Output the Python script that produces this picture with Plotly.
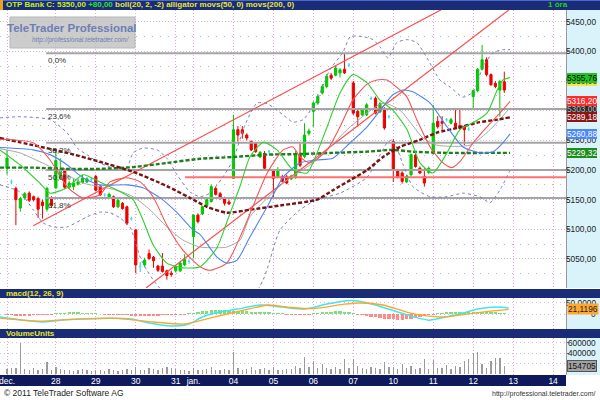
import plotly.graph_objects as go

# ---------------- data (hourly bars, index = bar number) -------------
opens = [5203, 5180, 5169, 5136, 5153, 5161, 5155, 5152, 5146, 5134, 5152,
         5170, 5186, 5200, 5171, 5172, 5176, 5179, 5180, 5184,
         5189, 5173, 5158, 5154, 5155, 5138, 5144, 5138, 5118,
         5099, 5038, 5040, 5059, 5053, 5038, 5038, 5030, 5026,
         5030, 5030, 5040, 5046,
         5088, 5124, 5126, 5140, 5147, 5169, 5160, 5152, 5146,
         5186, 5268, 5268, 5259, 5248, 5245, 5222, 5228, 5231,
         5199, 5189, 5189, 5189, 5185, 5189, 5225, 5223, 5262,
         5299, 5313, 5330, 5341, 5360, 5360, 5364, 5370, 5377,
         5347, 5299, 5293, 5293, 5321, 5321, 5298, 5304, 5290,
         5248, 5200, 5195, 5180, 5192, 5225, 5203, 5189, 5196,
         5228, 5282, 5282, 5285, 5279, 5279, 5275, 5273, 5269,
         5324, 5334, 5370, 5386, 5361, 5346, 5335, 5349]
highs = [5234, 5184, 5172, 5155, 5163, 5164, 5157, 5155, 5150, 5172, 5156,
         5234, 5220, 5203, 5182, 5186, 5186, 5192, 5188, 5188,
         5192, 5175, 5161, 5162, 5157, 5151, 5146, 5140, 5121,
         5100, 5045, 5052, 5066, 5055, 5040, 5060, 5032, 5030,
         5040, 5046, 5058, 5049,
         5125, 5127, 5140, 5152, 5176, 5172, 5163, 5155, 5150,
         5293, 5274, 5274, 5262, 5250, 5247, 5232, 5232, 5234,
         5202, 5205, 5192, 5192, 5192, 5232, 5245, 5279, 5270,
         5316, 5328, 5345, 5362, 5364, 5376, 5372, 5397, 5380,
         5350, 5302, 5304, 5313, 5324, 5324, 5315, 5306, 5293,
         5252, 5202, 5198, 5192, 5228, 5228, 5206, 5203, 5206,
         5310, 5291, 5291, 5288, 5288, 5304, 5304, 5276, 5272,
         5336, 5372, 5411, 5390, 5363, 5350, 5352, 5366]
lows = [5192, 5176, 5107, 5130, 5150, 5146, 5147, 5119, 5118, 5130, 5136,
        5168, 5184, 5168, 5168, 5166, 5174, 5177, 5178, 5181,
        5164, 5156, 5155, 5152, 5136, 5136, 5133, 5107, 5115,
        5026, 5028, 5036, 5048, 5035, 5028, 5027, 5015, 5020,
        5027, 5028, 5038, 5042,
        5051, 5110, 5124, 5138, 5145, 5157, 5150, 5140, 5141,
        5185, 5248, 5253, 5250, 5232, 5229, 5220, 5200, 5228,
        5152, 5186, 5179, 5176, 5183, 5185, 5205, 5220, 5258,
        5273, 5310, 5327, 5338, 5352, 5358, 5356, 5362, 5374,
        5293, 5273, 5291, 5291, 5318, 5294, 5296, 5268, 5287,
        5180, 5186, 5177, 5178, 5190, 5204, 5193, 5172, 5193,
        5226, 5270, 5266, 5282, 5277, 5270, 5268, 5242, 5266,
        5301, 5331, 5368, 5358, 5342, 5338, 5290, 5330]
closes = [5220, 5180, 5150, 5152, 5160, 5149, 5150, 5134, 5140, 5169, 5140,
          5216, 5200, 5171, 5178, 5178, 5180, 5186, 5185, 5184,
          5166, 5158, 5158, 5159, 5138, 5149, 5135, 5110, 5118,
          5040, 5038, 5048, 5051, 5047, 5031, 5029, 5022, 5024,
          5037, 5043, 5049, 5046,
          5124, 5113, 5138, 5150, 5172, 5159, 5152, 5144, 5143,
          5268, 5259, 5262, 5254, 5234, 5231, 5230, 5203, 5231,
          5186, 5200, 5181, 5178, 5190, 5228, 5208, 5259, 5266,
          5313, 5324, 5341, 5358, 5355, 5372, 5369, 5364, 5377,
          5296, 5290, 5301, 5310, 5321, 5296, 5312, 5271, 5290,
          5200, 5189, 5181, 5189, 5226, 5206, 5195, 5178, 5203,
          5279, 5273, 5279, 5285, 5285, 5273, 5270, 5268, 5269,
          5334, 5370, 5386, 5361, 5344, 5341, 5349, 5335]
volumes = [95000, 110000, 105000, 600000, 90000, 70000, 110000, 75000, 95000, 230000, 80000,
           130000, 95000, 70000, 85000, 60000, 75000, 90000, 70000, 60000,
           85000, 70000, 60000, 95000, 80000, 65000, 70000, 100000, 75000,
           130000, 85000, 70000, 120000, 90000, 75000, 110000, 130000, 120000,
           90000, 85000, 70000, 60000,
           110000, 80000, 70000, 95000, 140000, 75000, 70000, 90000, 80000,
           420000, 110000, 80000, 90000, 130000, 75000, 100000, 110000, 80000,
           140000, 85000, 70000, 100000, 90000, 150000, 120000, 325000, 130000,
           253000, 110000, 200000, 120000, 95000, 130000, 90000, 285000, 110000,
           285000, 150000, 110000, 90000, 140000, 120000, 100000, 220000, 130000,
           130000, 100000, 190000, 110000, 150000, 90000, 120000, 285000, 100000,
           260000, 120000, 110000, 180000, 100000, 150000, 130000,
           250000, 280000, 400000, 420000, 200000, 110000, 250000, 300000, 310000, 154705]
macd_hist = [-5, -6, -7, -8, -8, -7, -6, -6, -5, -4, -3,
             3, 5, 6, 7, 7, 7, 6, 5, 4, 3, 2,
             -2, -3, -4, -5, -6, -6, -7, -7, -8, -8, -8, -7, -7, -6, -6, -5, -4, -3, -2,
             3, 6, 9, 12, 15, 17, 18, 18, 17, 16, 15, 15, 14, 12, 11, 10, 9, 8, 7, 6, 5, 3,
             -2, -3, -4, -4, -3, -2,
             3, 5, 7, 9, 11, 12, 12, 11, 9, 6,
             -3, -6, -9, -12, -15, -18, -20, -22, -23, -24, -24, -22, -20, -17, -13, -9, -6, -3,
             3, 5, 7, 8, 9, 10, 10, 10, 9, 9, 8, 8, 7, 7, 6, 6]

# indicator lines, sampled points (bar index, value)
bb_upper_x = [-1.6, 2.9, 9.7, 13.5, 15.8, 18.0, 20.3, 23.2, 27.0, 28.4, 30.6, 33.8, 36.0, 38.3, 41.2, 43.5,
              45.7, 48.6, 50.9, 53.6, 56.3, 58.6, 62.2, 64.4, 66.7, 69.8, 72.7, 75.7, 77.3, 80.2, 82.4,
              84.0, 85.8, 87.8, 90.1, 92.3, 94.6, 97.5, 99.8, 102.7, 105.0, 107.2, 109.5, 111.7, 113.3]
bb_upper_y = [5288, 5290, 5285, 5263, 5237, 5226, 5214, 5205, 5205, 5229, 5237, 5234, 5220, 5192, 5163, 5155,
              5161, 5188, 5217, 5276, 5313, 5312, 5293, 5281, 5285, 5318, 5369, 5399, 5425, 5425, 5420,
              5408, 5389, 5415, 5420, 5415, 5389, 5352, 5340, 5323, 5332, 5374, 5398, 5403, 5403]
bb_lower_x = [-1.6, 0.7, 2.9, 5.9, 8.1, 10.4, 13.5, 18.0, 20.9, 23.2, 25.5, 27.7, 30.0, 31.5, 32.9, 35.1,
              41.2, 50.2, 57.7, 61.5, 66.0, 69.8, 75.0, 81.1, 85.6, 86.9, 89.2, 91.4, 95.3, 99.1, 102.7,
              106.5, 108.8, 111.0, 113.3]
bb_lower_y = [5175, 5170, 5163, 5133, 5111, 5104, 5104, 5121, 5129, 5128, 5119, 5104, 5053, 5031, 5015, 4994,
              4930, 4930, 5015, 5099, 5133, 5150, 5161, 5188, 5246, 5251, 5209, 5172, 5155, 5155, 5161,
              5155, 5145, 5166, 5200]
bb_mid_x = [-1.6, 2.9, 7.4, 13.5, 17.1, 20.9, 24.8, 28.4, 32.2, 36.0, 39.6, 43.5, 45.7, 49.5, 52.5, 54.7,
            62.2, 69.8, 77.3, 84.7, 88.5, 93.7, 96.8, 104.3, 108.8, 113.3]
bb_mid_y = [5236, 5229, 5214, 5192, 5178, 5172, 5166, 5155, 5133, 5104, 5082, 5070, 5069, 5070, 5082, 5121,
            5178, 5217, 5273, 5313, 5301, 5254, 5242, 5242, 5268, 5305]
jaw_x = [-1.6, 5.9, 9.7, 13.5, 17.1, 20.9, 27.0, 30.6, 34.5, 38.3, 41.9, 43.5, 47.3, 49.5, 51.8, 54.7, 58.6,
         62.2, 66.0, 69.8, 73.4, 77.3, 81.1, 84.7, 86.9, 89.2, 91.4, 95.3, 99.1, 102.7, 106.5, 109.5, 111.7, 113.3]
jaw_y = [5238, 5234, 5226, 5209, 5187, 5175, 5175, 5170, 5153, 5128, 5099, 5091, 5053, 5043, 5048, 5087, 5138,
         5188, 5212, 5217, 5220, 5246, 5273, 5307, 5327, 5335, 5332, 5313, 5273, 5239, 5229, 5231, 5246, 5261]
teeth_x = [-1.6, 5.9, 9.7, 13.5, 15.8, 17.1, 20.9, 23.2, 27.0, 30.0, 32.9, 36.0, 39.6, 43.5, 45.7, 49.5, 53.2,
           58.6, 62.2, 64.4, 66.0, 68.2, 72.1, 75.0, 77.9, 81.1, 83.3, 85.6, 88.5, 90.1, 92.3, 95.3, 98.2,
           100.2, 102.0, 105.0, 108.1, 111.0, 113.3]
teeth_y = [5252, 5246, 5217, 5172, 5158, 5153, 5158, 5180, 5187, 5180, 5155, 5107, 5065, 5037, 5031, 5043, 5099,
           5195, 5234, 5239, 5222, 5212, 5234, 5273, 5318, 5345, 5352, 5352, 5335, 5323, 5285, 5239, 5212,
           5204, 5214, 5246, 5273, 5296, 5316]
lips_x = [-1.6, 2.9, 7.4, 9.7, 13.5, 17.1, 20.9, 24.8, 28.4, 30.6, 32.9, 36.0, 39.6, 43.5, 47.3, 49.5, 52.5,
          54.7, 57.7, 60.8, 64.4, 67.6, 68.9, 72.1, 75.0, 77.9, 81.1, 84.0, 86.9, 90.1, 93.0, 95.9, 99.1,
          102.0, 105.0, 108.1, 110.4, 111.7, 113.3]
lips_y = [5234, 5209, 5178, 5161, 5170, 5192, 5180, 5166, 5150, 5116, 5074, 5043, 5035, 5037, 5069, 5112, 5173,
          5222, 5247, 5234, 5200, 5195, 5212, 5273, 5330, 5361, 5347, 5318, 5301, 5268, 5212, 5195, 5229,
          5268, 5280, 5296, 5335, 5352, 5356]
movs200_x = [-1.6, 5.9, 13.5, 20.9, 28.4, 36.0, 41.2, 45.0, 49.5, 54.7, 62.2, 69.8, 73.4, 77.3, 81.1, 84.7,
             88.5, 93.0, 96.8, 101.4, 105.9, 110.4, 113.3]
movs200_y = [5254, 5242, 5229, 5214, 5197, 5173, 5153, 5138, 5128, 5133, 5141, 5150, 5166, 5183, 5200, 5222,
             5239, 5251, 5263, 5271, 5280, 5285, 5289]
movs50_x = [-1.6, 5.9, 13.5, 20.9, 28.4, 36.0, 43.5, 50.9, 58.6, 66.0, 73.4, 81.1, 86.9, 91.4, 99.1, 113.3]
movs50_y = [5204, 5204, 5202, 5202, 5205, 5212, 5219, 5222, 5226, 5227, 5229, 5231, 5234, 5231, 5229, 5229]
macd_x = [-1.6, 3.6, 7.9, 12, 17, 24, 28, 31, 35, 38, 41, 44, 48, 52, 57, 62, 67, 72, 76, 79, 83, 88, 91, 95,
          97.5, 102, 106, 110.6, 113]
macd_v = [-13, -27, -35, -27, -22, -18, -22, -35, -49, -53, -44, -13, 9, 22, 40, 31, 22, 44, 58, 58, 40, 9,
          -9, -27, -18, 0, 22, 31, 27]
signal_x = [-1.6, 7, 15.8, 24, 33, 40, 46.6, 53.6, 58.8, 64, 69, 76, 79.5, 84.7, 90, 93, 98, 103.6, 108.8, 113]
signal_v = [-18, -31, -22, -18, -35, -44, -13, 18, 40, 29, 24, 44, 49, 40, 9, -4, -13, 0, 13, 21.1]

# drawing tools
fib_start = 8.8
fib_values = [5397, 5303, 5246, 5200, 5153]
fib_labels = ["0,0%", "23,6%", "38,2%", "50,0%", "61,8%"]
trend1 = ([5.9, 97.7], [5106, 5470])
trend2 = ([31.3, 113.0], [5001, 5470])
hline_start, hline_value = 40.1, 5188

# axis labels
day_ticks = [0, 11, 20, 29, 38, 42, 51, 60, 69, 78, 87, 96, 105, 114, 123]
day_labels = ["dec.", "28", "29", "30", "31", "jan.", "04", "05", "06", "07", "10", "11", "12", "13", "14"]
price_ticks = [5050, 5100, 5150, 5200, 5250, 5300, 5350, 5400, 5450]
price_minor = [5025, 5075, 5125, 5175, 5225, 5275, 5325, 5375, 5425]
vol_ticks = [200000, 400000, 600000]
price_tags = [(5350.00, "5350,00", "#f2e64a", "#333"), (5355.76, "5355,76", "#22c422", "#000"),
              (5303.00, "5303,00", "#2a2a2a", "#bbbbbb"), (5316.20, "5316,20", "#ff2a2a", "#ffffff"),
              (5289.18, "5289,18", "#8c1414", "#ffffff"), (5260.88, "5260,88", "#4a86ff", "#ffffff"),
              (5229.32, "5229,32", "#1c8c1c", "#ffffff")]

# ---------------- layout geometry ----------------
W, H = 600, 400
XR = 566 / W
FONT = "Liberation Sans, Arial, sans-serif"


def dom(top, bottom):
    return [1 - bottom / H, 1 - top / H]


main_dom, macd_dom, vol_dom = dom(10, 288), dom(298, 329), dom(338, 375)
x_range = [-1.58, 125.9]

fig = go.Figure()


def line(x, y, color, width=1.0, dash="solid", shape="spline", xa="x", ya="y"):
    fig.add_trace(go.Scatter(x=x, y=y, mode="lines", xaxis=xa, yaxis=ya, hoverinfo="skip",
                             line=dict(color=color, width=width, dash=dash, shape=shape, smoothing=0.6)))


# fibonacci + horizontal + trend lines
for v in fib_values:
    line([fib_start, x_range[1]], [v, v], "#a4a4a4", 2, shape="linear")
line([hline_start, x_range[1]], [hline_value, hline_value], "#ff7070", 2, shape="linear")
line(trend1[0], trend1[1], "#ff4c4c", 1.2, shape="linear")
line(trend2[0], trend2[1], "#ff4c4c", 1.2, shape="linear")

# indicators
line(bb_upper_x, bb_upper_y, "#7682b4", 1, "dot")
line(bb_lower_x, bb_lower_y, "#7682b4", 1, "dot")
line(bb_mid_x, bb_mid_y, "#a8a8a8", 1)
line(movs50_x, movs50_y, "#1e7e1e", 2.4, "4px,2px")
line(movs200_x, movs200_y, "#761414", 2.4, "4px,2px")
line(jaw_x, jaw_y, "#4c86f0", 1.1)
line(teeth_x, teeth_y, "#f25656", 1.1)
line(lips_x, lips_y, "#30d030", 1.1)

# candles
idx = list(range(len(opens)))
nd = [i for i in idx if opens[i] != closes[i]]
dj = [i for i in idx if opens[i] == closes[i]]
fig.add_trace(go.Candlestick(
    x=nd, open=[opens[i] for i in nd], high=[highs[i] for i in nd],
    low=[lows[i] for i in nd], close=[closes[i] for i in nd],
    increasing=dict(line=dict(color="#00c400", width=1), fillcolor="#00d000"),
    decreasing=dict(line=dict(color="#ee0000", width=1), fillcolor="#ee0000"),
    whiskerwidth=0, hoverinfo="skip", showlegend=False))
fig.add_trace(go.Candlestick(
    x=dj, open=[opens[i] for i in dj], high=[highs[i] for i in dj],
    low=[lows[i] for i in dj], close=[closes[i] for i in dj],
    increasing=dict(line=dict(color="#38dcf0", width=1.2), fillcolor="#38dcf0"),
    decreasing=dict(line=dict(color="#38dcf0", width=1.2), fillcolor="#38dcf0"),
    whiskerwidth=0, hoverinfo="skip", showlegend=False))

# MACD panel
fig.add_trace(go.Bar(x=idx, y=macd_hist, xaxis="x2", yaxis="y2", width=0.75, hoverinfo="skip",
                     marker=dict(color=["#6ad86a" if v > 0 else "#ff7676" for v in macd_hist], line_width=0),
                     opacity=0.85))
line(macd_x, macd_v, "#3ee6ee", 1.5, xa="x2", ya="y2")
line(signal_x, signal_v, "#ffa62a", 1.3, xa="x2", ya="y2")

# Volume panel
fig.add_trace(go.Bar(x=idx, y=volumes, xaxis="x3", yaxis="y3", width=0.3, hoverinfo="skip",
                     marker=dict(color="#9a9a9a", line_width=0)))

# ---------------- shapes ----------------
shapes = []


def rect(x0, x1, top, bottom, color, layer="below", line_color=None, opacity=1):
    shapes.append(dict(type="rect", xref="paper", yref="paper", x0=x0, x1=x1,
                       y0=1 - bottom / H, y1=1 - top / H, fillcolor=color, opacity=opacity, layer=layer,
                       line=dict(width=1 if line_color else 0, color=line_color or color)))


rect(0, 1, 0, 10, "#1b2c76")
rect(0, 1, 0, 1, "#4a68d0")
rect(0, 3 / W, 0, 10, "#f0a020")
rect(0, 1, 289, 298, "#1b2c76")
rect(0, 1, 329, 338, "#1b2c76")
rect(0, XR, 375, 386, "#0f1a5c")
for top, bottom in [(10, 288), (298, 329), (338, 375)]:
    rect(XR, 1, top, bottom, "#daf3fa")
rect(10 / W, 135 / W, 17, 48, "#bcbcbc", layer="above", line_color="#a0a0a0", opacity=0.75)

# ---------------- annotations ----------------
ann = []


def text(x, y, s, size=8, color="#222", xanchor="left", yanchor="middle", xref="paper", yref="paper", **kw):
    ann.append(dict(x=x, y=y, xref=xref, yref=yref, text=s, showarrow=False, xanchor=xanchor,
                    yanchor=yanchor, font=dict(family=FONT, size=size, color=color), **kw))


text(4 / W, 1 - 5 / H,
     '<b><span style="color:#c6ee1a">OTP Bank C: 5350,00 </span><span style="color:#2ee02e">+80,00</span>'
     '<span style="color:#e6e636"> boll(20, 2, -2) alligator movs(50, 0) movs(200, 0)</span></b>', size=8)
text(558 / W, 1 - 5 / H, "<b>1 óra</b>", size=8, color="#22d022", xanchor="center")
text(4 / W, 1 - 293.5 / H, "<b>macd(12, 26, 9)</b>", size=8, color="#e8e820")
text(4 / W, 1 - 333.5 / H, "<b>VolumeUnits</b>", size=8, color="#e8e820")
text(72 / W, 1 - 28 / H, "<b>TeleTrader Professional</b>", size=11.5, color="#6c7eb6", xanchor="center")
text(80 / W, 1 - 40 / H, "<i>http://professional.teletrader.com/</i>", size=6.5, color="#6c7eb6",
     xanchor="center")
text(2 / W, 1 - 393 / H, "© 2011 TeleTrader Software AG", size=8.5, color="#222")
text(598 / W, 1 - 394 / H, "http://professional.teletrader.com/", size=7, color="#333", xanchor="right")

for v, lab in zip(fib_values, fib_labels):
    text(fib_start, v, lab, size=8, color="#333", xref="x", yref="y", yanchor="top", yshift=-1)

# right-hand price scale labels (positioned through the y axis scale)
for v in price_ticks:
    text(598 / W, v, f"{v},00", size=8.3, color="#222", xanchor="right", yref="y")
for v in vol_ticks:
    text(598 / W, v, str(v), size=8.3, color="#222", xanchor="right", yref="y3")

for v, lab, bg, fg in price_tags:
    text(567 / W, v, lab, size=8.3, color=fg, xref="paper", yref="y", bgcolor=bg, borderpad=0,
         bordercolor="#444", borderwidth=0)

text(598 / W, 50, "50,0000", size=8.3, color="#222", xanchor="right", yref="y2")
text(598 / W, 0, "0", size=8.3, color="#222", xanchor="right", yref="y2")
text(567 / W, 21.1196, "21,1196", size=8.3, color="#222", yref="y2", bgcolor="#ffa830", borderpad=0)
text(567 / W, 154705, "154705", size=8.3, color="#111", yref="y3", bgcolor="#a2a2a2", borderpad=0,
     bordercolor="#555", borderwidth=1)

# ---------------- axes ----------------
grid_x = dict(tickvals=day_ticks, showgrid=True, gridcolor="#e2a8e2", griddash="1px,2px", gridwidth=1,
              zeroline=False, range=x_range, domain=[0, XR], ticks="", fixedrange=True)

fig.update_layout(
    width=W, height=H, margin=dict(l=0, r=0, t=0, b=0), autosize=False,
    paper_bgcolor="white", plot_bgcolor="white", showlegend=False, separators=", ",
    bargap=0, shapes=shapes, annotations=ann,
    xaxis=dict(grid_x, anchor="y", showticklabels=False, rangeslider=dict(visible=False)),
    xaxis2=dict(grid_x, anchor="y2", showticklabels=False),
    xaxis3=dict(grid_x, anchor="y3", showticklabels=True, ticktext=day_labels, ticklabeloverflow="allow",
                tickfont=dict(family=FONT, size=8.5, color="white"), ticklabelstandoff=-1),
    yaxis=dict(domain=main_dom, range=[5001, 5470], side="right", anchor="x", tickvals=price_ticks,
               showticklabels=False, ticks="outside", ticklen=2,
               tickcolor="#666", showline=True, linecolor="#999", linewidth=1, showgrid=True,
               gridcolor="#d4bcd4", griddash="1px,2px", zeroline=False,
               minor=dict(tickvals=price_minor, showgrid=True, gridcolor="#b8b8b8", griddash="1px,7px",
                          ticks=""), fixedrange=True),
    yaxis2=dict(domain=macd_dom, range=[-66, 71], side="right", anchor="x2", tickvals=[0, 50],
                showticklabels=False, ticks="", showline=True, linecolor="#999", showgrid=True,
                gridcolor="#d4bcd4", griddash="1px,3px", zeroline=False, fixedrange=True),
    yaxis3=dict(domain=vol_dom, range=[-19000, 686000], side="right", anchor="x3", tickvals=vol_ticks,
                showticklabels=False, ticks="outside", ticklen=2,
                tickcolor="#666", showline=True, linecolor="#999", showgrid=True, gridcolor="#d4bcd4",
                griddash="1px,3px", zeroline=False, fixedrange=True),
)

fig.write_html("out.html", config={"displayModeBar": False, "staticPlot": True},
               post_script="document.body.style.margin='0px';document.body.style.overflow='hidden';")
